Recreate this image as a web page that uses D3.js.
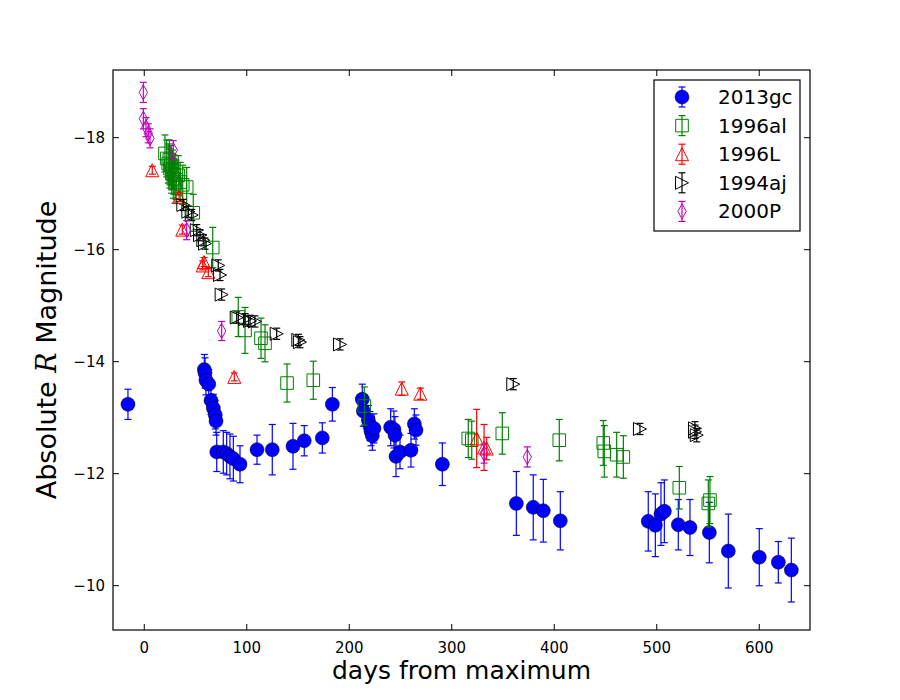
<!DOCTYPE html>
<html>
<head>
  <title>SN light curves</title>
  <script src="https://d3js.org/d3.v7.min.js"></script>
  <style>
    body { margin: 0; background: #fff; }
    text { font-family: "DejaVu Sans", sans-serif; }
  </style>
</head>
<body>
<script type="text/javascript">
  // [day, absolute R mag, error]
  var sn2013gc = [
    [-15.4,-13.23,0.27],
    [59.1,-13.85,0.27],[59.8,-13.79,0.27],[60.7,-13.66,0.26],[63.4,-13.59,0.26],
    [65.6,-13.30,0.25],[67.9,-13.16,0.25],[69.8,-13.04,0.25],[70.5,-12.93,0.25],
    [71.2,-12.38,0.35],[77.6,-12.38,0.38],[80.9,-12.35,0.38],[84.1,-12.30,0.40],
    [87.4,-12.26,0.40],[93.9,-12.16,0.33],
    [110.5,-12.42,0.26],[125.4,-12.42,0.45],[145.6,-12.48,0.41],[156.6,-12.58,0.27],
    [174.2,-12.63,0.27],[184.0,-13.23,0.30],
    [213.2,-13.32,0.27],[214.2,-13.11,0.27],[219.1,-12.95,0.26],[220.7,-12.84,0.26],
    [221.7,-12.75,0.26],[223.0,-12.67,0.26],[224.6,-12.80,0.26],
    [240.9,-12.82,0.33],[244.1,-12.78,0.33],[245.1,-12.68,0.33],[246.1,-12.30,0.36],
    [250.0,-12.38,0.30],[260.7,-12.41,0.30],[264.0,-12.88,0.27],[265.6,-12.77,0.27],
    [291.3,-12.16,0.38],
    [363.5,-11.46,0.57],[380.0,-11.39,0.58],[389.8,-11.33,0.56],[406.4,-11.15,0.52],
    [492.2,-11.14,0.53],[499.1,-11.07,0.56],[504.6,-11.27,0.56],[507.9,-11.32,0.56],
    [521.5,-11.08,0.45],[532.9,-11.03,0.50],[551.8,-10.94,0.54],[570.3,-10.61,0.66],
    [600.5,-10.50,0.51],[619.1,-10.41,0.37],[631.8,-10.27,0.57]
  ];

  var sn1996al = [
    [20.7,-17.71,0.33],[22.4,-17.62,0.33],[23.9,-17.53,0.35],[25.0,-17.60,0.35],
    [25.6,-17.44,0.35],[26.5,-17.50,0.35],[27.3,-17.35,0.35],[28.0,-17.42,0.35],
    [28.8,-17.26,0.35],[29.6,-17.33,0.35],[30.5,-17.17,0.35],[31.5,-17.24,0.35],
    [33.7,-17.32,0.35],[35.5,-17.20,0.35],[38.0,-17.15,0.35],
    [41.9,-17.11,0.35],[48.3,-16.65,0.33],[67.3,-16.03,0.36],
    [92.2,-14.79,0.35],[98.8,-14.55,0.41],[114.4,-14.41,0.36],[118.3,-14.32,0.33],
    [139.8,-13.61,0.34],[165.4,-13.66,0.34],[215.2,-13.20,0.34],
    [316.6,-12.62,0.34],[320.0,-12.59,0.34],[349.8,-12.71,0.37],[405.4,-12.59,0.37],
    [448.3,-12.54,0.40],[449.3,-12.39,0.46],[461.4,-12.33,0.40],[467.9,-12.29,0.38],
    [522.5,-11.74,0.38],[550.8,-11.46,0.42],[552.4,-11.52,0.42]
  ];

  var sn1996L = [
    [8.3,-17.41,0.07],[34.4,-16.93,0.08],[37.6,-16.35,0.08],[57.5,-15.71,0.08],
    [58.8,-15.77,0.08],[63.0,-15.59,0.08],[88.3,-13.72,0.07],
    [251.7,-13.51,0.12],[269.8,-13.42,0.10],
    [324.8,-12.62,0.52],[332.0,-12.46,0.41],[334.6,-12.44,0.20]
  ];

  var sn1994aj = [
    [38.6,-16.79,0.10],[43.5,-16.67,0.10],[46.8,-16.61,0.10],[51.7,-16.34,0.10],
    [54.9,-16.25,0.10],[58.1,-16.16,0.10],[59.8,-16.10,0.10],[72.7,-15.71,0.10],
    [74.4,-15.54,0.10],[76.0,-15.19,0.10],[90.7,-14.78,0.10],[98.8,-14.75,0.10],
    [103.7,-14.72,0.10],[108.5,-14.71,0.10],[129.7,-14.49,0.10],[150.8,-14.38,0.10],
    [152.4,-14.34,0.10],[191.5,-14.30,0.10],[360.5,-13.59,0.10],[484.1,-12.79,0.10],
    [537.8,-12.80,0.12],[537.8,-12.74,0.12],[539.5,-12.68,0.12]
  ];

  var sn2000P = [
    [-0.4,-18.80,0.18],[-0.4,-18.33,0.18],[2.2,-18.18,0.17],[4.4,-18.07,0.17],
    [6.1,-17.98,0.17],[28.8,-17.77,0.17],[41.9,-16.34,0.17],[76.0,-14.54,0.17],
    [332.0,-12.35,0.17],[374.2,-12.29,0.18]
  ];

  var seriesNames = ["2013gc", "1996al", "1996L", "1994aj", "2000P"];
  var xTicks = [0, 100, 200, 300, 400, 500, 600];
  var yTicks = [-18, -16, -14, -12, -10];

  var w = 900;
  var h = 700;
  var padL = 113, padR = 810, padT = 70, padB = 630;

  var series = [
    {name: "2013gc", data: sn2013gc, shape: "circle",   color: "#0000ff", fill: "#0000ff"},
    {name: "1996al", data: sn1996al, shape: "square",   color: "#008000", fill: "none"},
    {name: "1996L",  data: sn1996L,  shape: "triangle", color: "#ff0000", fill: "none"},
    {name: "1994aj", data: sn1994aj, shape: "right",    color: "#000000", fill: "none"},
    {name: "2000P",  data: sn2000P,  shape: "diamond",  color: "#bf00bf", fill: "none"}
  ];

  var svg = d3.select("body").append("svg")
    .attr("width", w)
    .attr("height", h);

  var x = d3.scaleLinear().domain([-30, 650]).range([padL, padR]);
  var y = d3.scaleLinear().domain([-19.2, -9.2]).range([padT, padB]);

  svg.append("clipPath").attr("id", "clip")
    .append("rect")
    .attr("x", padL).attr("y", padT)
    .attr("width", padR - padL).attr("height", padB - padT);

  function markerPath(shape) {
    switch (shape) {
      case "circle": return d3.symbol().type(d3.symbolCircle).size(Math.PI * 7 * 7)();
      case "square": return "M-6.3,-6.3L6.3,-6.3L6.3,6.3L-6.3,6.3Z";
      case "triangle": return "M0,-6.5L6.5,6.5L-6.5,6.5Z";
      case "right": return "M6.5,0L-6.5,-6.5L-6.5,6.5Z";
      case "diamond": return "M0,-7.5L4.2,0L0,7.5L-4.2,0Z";
    }
  }

  var plot = svg.append("g").attr("clip-path", "url(#clip)");
  var cap = 3.5;

  series.forEach(function(s) {
    var g = plot.append("g");
    var bars = g.selectAll("g.bar")
      .data(s.data)
      .enter()
      .append("g")
      .attr("class", "bar")
      .attr("stroke", s.color)
      .attr("stroke-width", 1.2);
    bars.append("line")
      .attr("x1", function(d){ return x(d[0]); })
      .attr("x2", function(d){ return x(d[0]); })
      .attr("y1", function(d){ return y(d[1] - d[2]); })
      .attr("y2", function(d){ return y(d[1] + d[2]); });
    bars.append("line")
      .attr("x1", function(d){ return x(d[0]) - cap; })
      .attr("x2", function(d){ return x(d[0]) + cap; })
      .attr("y1", function(d){ return y(d[1] - d[2]); })
      .attr("y2", function(d){ return y(d[1] - d[2]); });
    bars.append("line")
      .attr("x1", function(d){ return x(d[0]) - cap; })
      .attr("x2", function(d){ return x(d[0]) + cap; })
      .attr("y1", function(d){ return y(d[1] + d[2]); })
      .attr("y2", function(d){ return y(d[1] + d[2]); });

    g.selectAll("path")
      .data(s.data)
      .enter()
      .append("path")
      .attr("d", markerPath(s.shape))
      .attr("transform", function(d){
        return "translate(" + x(d[0]) + "," + y(d[1]) + ")";
      })
      .attr("fill", s.fill)
      .attr("stroke", s.shape == "circle" ? "#000" : s.color)
      .attr("stroke-width", s.shape == "circle" ? 0.5 : 1);
  });

  // axes: ticks inside on all sides
  var tickLen = 6;
  svg.append("g")
    .attr("transform", "translate(0," + padB + ")")
    .call(d3.axisBottom(x).tickValues(xTicks).tickSize(-tickLen).tickPadding(12)
      .tickFormat(d3.format("d")))
    .call(function(g){ g.select(".domain").remove(); });
  svg.append("g")
    .attr("transform", "translate(0," + padT + ")")
    .call(d3.axisTop(x).tickValues(xTicks).tickSize(-tickLen).tickFormat(""))
    .call(function(g){ g.select(".domain").remove(); });
  svg.append("g")
    .attr("transform", "translate(" + padL + ",0)")
    .call(d3.axisLeft(y).tickValues(yTicks).tickSize(-tickLen).tickPadding(8)
      .tickFormat(function(d){ return "\u2212" + Math.abs(d); }))
    .call(function(g){ g.select(".domain").remove(); });
  svg.append("g")
    .attr("transform", "translate(" + padR + ",0)")
    .call(d3.axisRight(y).tickValues(yTicks).tickSize(-tickLen).tickFormat(""))
    .call(function(g){ g.select(".domain").remove(); });

  svg.selectAll(".tick text")
    .attr("font-family", "DejaVu Sans")
    .attr("font-size", 15)
    .attr("fill", "#000");
  svg.selectAll(".tick line").attr("stroke", "#000");

  svg.append("rect")
    .attr("x", padL).attr("y", padT)
    .attr("width", padR - padL).attr("height", padB - padT)
    .attr("fill", "none")
    .attr("stroke", "#000")
    .attr("stroke-width", 1.2);

  // axis labels
  svg.append("text")
    .attr("x", (padL + padR) / 2)
    .attr("y", 679)
    .attr("text-anchor", "middle")
    .attr("font-size", 25)
    .text("days from maximum");

  var ylab = svg.append("text")
    .attr("transform", "translate(56," + (padT + padB) / 2 + ") rotate(-90)")
    .attr("text-anchor", "middle")
    .attr("font-size", 27);
  ylab.append("tspan").text("Absolute ");
  ylab.append("tspan")
    .attr("font-family", "DejaVu Serif")
    .attr("font-style", "italic")
    .text("R");
  ylab.append("tspan").text(" Magnitude");

  // legend
  var lg = svg.append("g");
  lg.append("rect")
    .attr("x", 654).attr("y", 80)
    .attr("width", 146).attr("height", 151)
    .attr("fill", "#fff")
    .attr("stroke", "#000")
    .attr("stroke-width", 1.2);

  var items = lg.selectAll("g.item")
    .data(series)
    .enter()
    .append("g")
    .attr("class", "item")
    .attr("transform", function(d, i){
      return "translate(682," + (97 + i * 28.6) + ")";
    });
  items.append("line")
    .attr("x1", 0).attr("x2", 0).attr("y1", -10).attr("y2", 10)
    .attr("stroke", function(d){ return d.color; }).attr("stroke-width", 1.2);
  items.append("line")
    .attr("x1", -cap).attr("x2", cap).attr("y1", -10).attr("y2", -10)
    .attr("stroke", function(d){ return d.color; }).attr("stroke-width", 1.2);
  items.append("line")
    .attr("x1", -cap).attr("x2", cap).attr("y1", 10).attr("y2", 10)
    .attr("stroke", function(d){ return d.color; }).attr("stroke-width", 1.2);
  items.append("path")
    .attr("d", function(d){ return markerPath(d.shape); })
    .attr("fill", function(d){ return d.fill; })
    .attr("stroke", function(d){ return d.shape == "circle" ? "#000" : d.color; })
    .attr("stroke-width", function(d){ return d.shape == "circle" ? 0.5 : 1; });
  items.append("text")
    .attr("x", 36)
    .attr("y", 7)
    .attr("font-size", 20)
    .text(function(d, i){ return seriesNames[i]; });
</script>
</body>
</html>
